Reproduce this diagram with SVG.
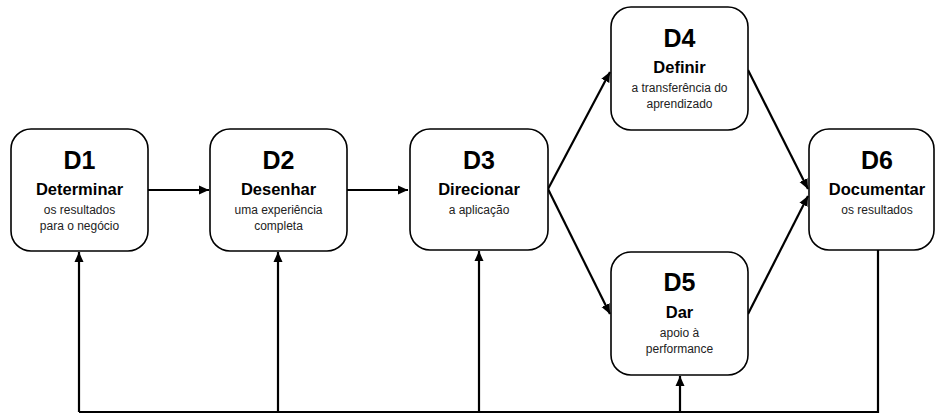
<svg xmlns="http://www.w3.org/2000/svg" width="936" height="417" viewBox="0 0 936 417">
<style>
.box{fill:#fff;stroke:#000;stroke-width:1.6}
.t{font-family:"Liberation Sans",Arial,sans-serif;text-anchor:middle;fill:#000}
.h{font-size:25px;font-weight:bold}
.b{font-size:16.5px;font-weight:bold}
.s{font-size:12px;fill:#222}
.c{fill:none;stroke:#000;stroke-width:2.2}
</style>
<defs>
<marker id="ah" viewBox="0 0 10 10" refX="10" refY="5" markerWidth="10" markerHeight="10" markerUnits="userSpaceOnUse" orient="auto">
<path d="M0,0.5 L10,5 L0,9.5 Z" fill="#000"/>
</marker>
</defs>
<rect width="936" height="417" fill="#fff"/>
<g id="connectors">
<path class="c" d="M148,190 L209,190" marker-end="url(#ah)"/>
<path class="c" d="M347,190 L408,190" marker-end="url(#ah)"/>
<path class="c" d="M548,189 L610,72" marker-end="url(#ah)"/>
<path class="c" d="M548,189 L610,314" marker-end="url(#ah)"/>
<path class="c" d="M748,70 L808,189" marker-end="url(#ah)"/>
<path class="c" d="M748,314 L808,196" marker-end="url(#ah)"/>
<path class="c" d="M878,250 L878,412 L79,412"/>
<path class="c" d="M79,412 L79,252" marker-end="url(#ah)"/>
<path class="c" d="M278,412 L278,252" marker-end="url(#ah)"/>
<path class="c" d="M479,412 L479,251" marker-end="url(#ah)"/>
<path class="c" d="M680,412 L680,376" marker-end="url(#ah)"/>
</g>
<g id="D1">
<rect class="box" x="11" y="129" width="137" height="122" rx="20"/>
<text class="t h" x="79.5" y="169">D1</text>
<text class="t b" x="79.5" y="195">Determinar</text>
<text class="t s" x="79.5" y="214">os resultados</text>
<text class="t s" x="79.5" y="230">para o negócio</text>
</g>
<g id="D2">
<rect class="box" x="210" y="129" width="137" height="122" rx="20"/>
<text class="t h" x="278.5" y="169">D2</text>
<text class="t b" x="278.5" y="195">Desenhar</text>
<text class="t s" x="278.5" y="214">uma experiência</text>
<text class="t s" x="278.5" y="230">completa</text>
</g>
<g id="D3">
<rect class="box" x="410" y="129" width="138" height="121" rx="20"/>
<text class="t h" x="479" y="169">D3</text>
<text class="t b" x="479" y="195">Direcionar</text>
<text class="t s" x="479" y="214">a aplicação</text>
</g>
<g id="D4">
<rect class="box" x="611" y="7" width="137" height="123" rx="20"/>
<text class="t h" x="679.5" y="47">D4</text>
<text class="t b" x="679.5" y="73">Definir</text>
<text class="t s" x="679.5" y="92">a transferência do</text>
<text class="t s" x="679.5" y="108">aprendizado</text>
</g>
<g id="D5">
<rect class="box" x="611" y="252" width="137" height="123" rx="20"/>
<text class="t h" x="679.5" y="291">D5</text>
<text class="t b" x="679.5" y="318">Dar</text>
<text class="t s" x="679.5" y="337">apoio à</text>
<text class="t s" x="679.5" y="353">performance</text>
</g>
<g id="D6">
<rect class="box" x="809" y="129" width="125" height="121" rx="20"/>
<text class="t h" x="877" y="169">D6</text>
<text class="t b" x="877" y="195">Documentar</text>
<text class="t s" x="877" y="214">os resultados</text>
</g>
</svg>
